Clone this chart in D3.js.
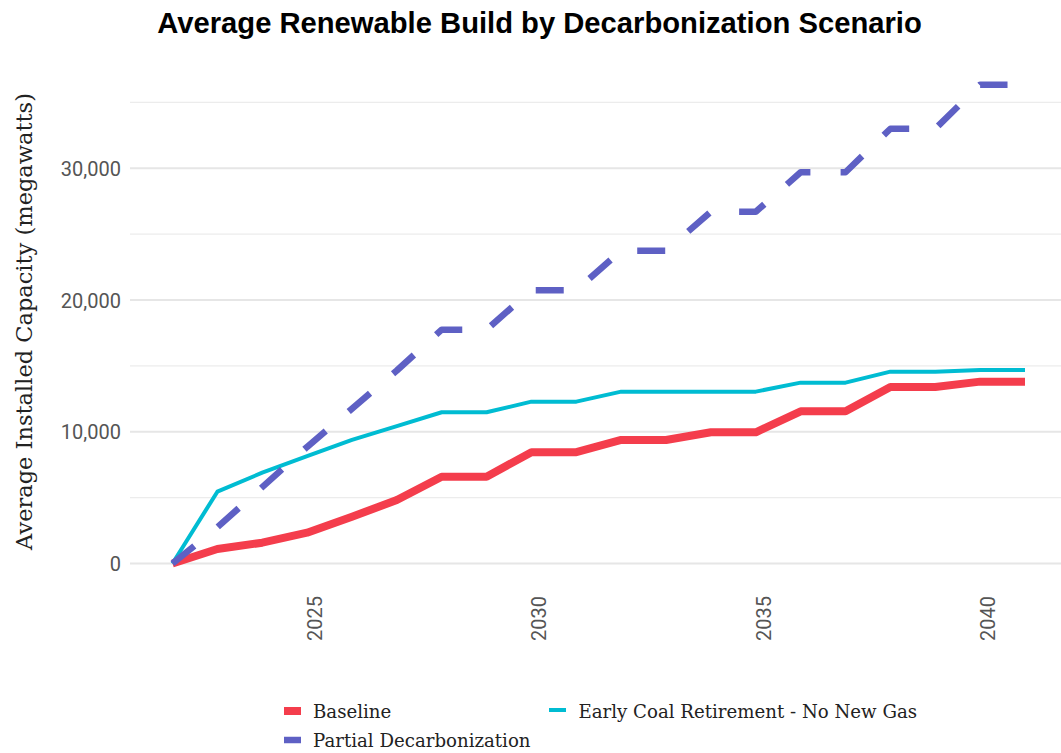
<!DOCTYPE html>
<html>
<head>
<meta charset="utf-8">
<script src="https://cdn.jsdelivr.net/npm/d3@7"></script>
<style>
  html, body { margin: 0; padding: 0; background: #ffffff; }
  svg { display: block; }
</style>
</head>
<body>
<svg id="chart" width="1061" height="753"></svg>
<script>
// ---- Data ----
const years = [2022, 2023, 2024, 2025, 2026, 2027, 2028, 2029, 2030, 2031,
               2032, 2033, 2034, 2035, 2036, 2037, 2038, 2039, 2040, 2041];
const baseline = [0, 1100, 1580, 2340, 3550, 4820, 6590, 6590, 8450, 8450,
                  9380, 9380, 9960, 9960, 11555, 11555, 13400, 13400, 13805, 13805];
const earlyCoal = [0, 5450, 6895, 8160, 9380, 10430, 11480, 11480, 12285, 12285,
                   13045, 13045, 13045, 13045, 13730, 13730, 14565, 14565, 14690, 14690];
const partialDecarb = [0, 2750, 5800, 8850, 11750, 14650, 17750, 17750, 20750, 20750,
                       23750, 23750, 26700, 26700, 29700, 29700, 33000, 33000, 36350, 36350];
const seriesNames = ["Baseline", "Early Coal Retirement - No New Gas", "Partial Decarbonization"];
const xTicks = [2025, 2030, 2035, 2040];
const yTicks = [0, 10000, 20000, 30000];
const yMinor = [5000, 15000, 25000, 35000];
const titleText = "Average Renewable Build by Decarbonization Scenario";
const yTitleText = "Average Installed Capacity (megawatts)";

// ---- Layout / style ----
const colors = {"Baseline": "#f43d4c", "Early Coal Retirement - No New Gas": "#00bcd2", "Partial Decarbonization": "#5e60c4"};
const widths = {"Baseline": 8, "Early Coal Retirement - No New Gas": 4, "Partial Decarbonization": 6.5};
const dashes = {"Baseline": null, "Early Coal Retirement - No New Gas": null, "Partial Decarbonization": "28,30.2"};
const panel = {left: 130, right: 1068, top: 60, bottom: 588};

const svg = d3.select("#chart");

const x = d3.scaleLinear().domain([2022, 2041]).range([172.5, 1025]);
const y = d3.scaleLinear().domain([0, 30000]).range([563.5, 168.3]);

// gridlines
const grid = svg.append("g");
grid.selectAll("line.minor").data(yMinor).join("line")
  .attr("x1", panel.left).attr("x2", panel.right)
  .attr("y1", d => y(d)).attr("y2", d => y(d))
  .attr("stroke", "#ececec").attr("stroke-width", 1.2);
grid.selectAll("line.major").data(yTicks).join("line")
  .attr("x1", panel.left).attr("x2", panel.right)
  .attr("y1", d => y(d)).attr("y2", d => y(d))
  .attr("stroke", "#e6e6e6").attr("stroke-width", 2);

// y axis labels
const yAxis = d3.axisLeft(y).tickValues(yTicks).tickFormat(d3.format(",")).tickSize(0).tickPadding(0);
const yg = svg.append("g").attr("transform", `translate(121,0)`).call(yAxis);
yg.select(".domain").remove();
yg.selectAll("text")
  .attr("font-family", "Roboto, sans-serif").attr("font-size", 20)
  .attr("fill", "#555555").attr("dy", "0.36em");

// x axis labels (rotated)
const xAxis = d3.axisBottom(x).tickValues(xTicks).tickFormat(d3.format("d")).tickSize(0).tickPadding(0);
const xg = svg.append("g").attr("transform", `translate(0,596)`).call(xAxis);
xg.select(".domain").remove();
xg.selectAll("text")
  .attr("font-family", "Roboto, sans-serif").attr("font-size", 20)
  .attr("fill", "#555555")
  .attr("transform", "rotate(-90)")
  .attr("x", 0).attr("y", 14.3).attr("dy", 0)
  .attr("text-anchor", "end");

// lines
const dataBySeries = {
  "Baseline": baseline,
  "Early Coal Retirement - No New Gas": earlyCoal,
  "Partial Decarbonization": partialDecarb
};
const line = d3.line().x(d => x(d[0])).y(d => y(d[1]));
const drawOrder = ["Baseline", "Early Coal Retirement - No New Gas", "Partial Decarbonization"];
svg.append("g").selectAll("path").data(drawOrder).join("path")
  .attr("d", s => line(years.map((yr, i) => [yr, dataBySeries[s][i]])))
  .attr("fill", "none")
  .attr("stroke", s => colors[s])
  .attr("stroke-width", s => widths[s])
  .attr("stroke-linejoin", "round")
  .attr("stroke-linecap", "butt")
  .attr("stroke-dasharray", s => dashes[s]);

// helper to fit font size to a target width
function fitText(sel, target) {
  const w = sel.node().getComputedTextLength();
  const fs = parseFloat(sel.attr("font-size"));
  sel.attr("font-size", fs * target / w);
  return fs * target / w;
}

// title
const title = svg.append("text")
  .attr("x", 539.5).attr("y", 33)
  .attr("text-anchor", "middle")
  .attr("font-family", "'Liberation Sans', Arial, sans-serif")
  .attr("font-weight", "bold").attr("font-size", 27)
  .attr("fill", "#000")
  .text(titleText);
fitText(title, 765);

// y title
const yTitle = svg.append("text")
  .attr("transform", "translate(31.5,321.5) rotate(-90)")
  .attr("text-anchor", "middle")
  .attr("font-family", "'DejaVu Serif', serif")
  .attr("font-size", 22)
  .attr("fill", "#222")
  .text(yTitleText);
fitText(yTitle, 457);

// legend
const legendItems = [
  {name: "Baseline", kx: 284, ky: 711, tx: 313, ty: 718},
  {name: "Early Coal Retirement - No New Gas", kx: 549, ky: 710, tx: 578.5, ty: 718},
  {name: "Partial Decarbonization", kx: 284, ky: 740, tx: 313, ty: 747}
];
const lg = svg.append("g");
lg.selectAll("line").data(legendItems).join("line")
  .attr("x1", d => d.kx).attr("x2", d => d.kx + 17)
  .attr("y1", d => d.ky).attr("y2", d => d.ky)
  .attr("stroke", d => colors[d.name])
  .attr("stroke-width", d => widths[d.name]);
const ltexts = lg.selectAll("text").data(legendItems).join("text")
  .attr("x", d => d.tx).attr("y", d => d.ty)
  .attr("font-family", "'DejaVu Serif', serif")
  .attr("font-size", 18)
  .attr("fill", "#222")
  .text(d => d.name);
// fit legend size using the longest label
const longest = ltexts.filter(d => d.name === "Early Coal Retirement - No New Gas");
const lfs = fitText(longest, 339);
ltexts.attr("font-size", lfs);
</script>
</body>
</html>
